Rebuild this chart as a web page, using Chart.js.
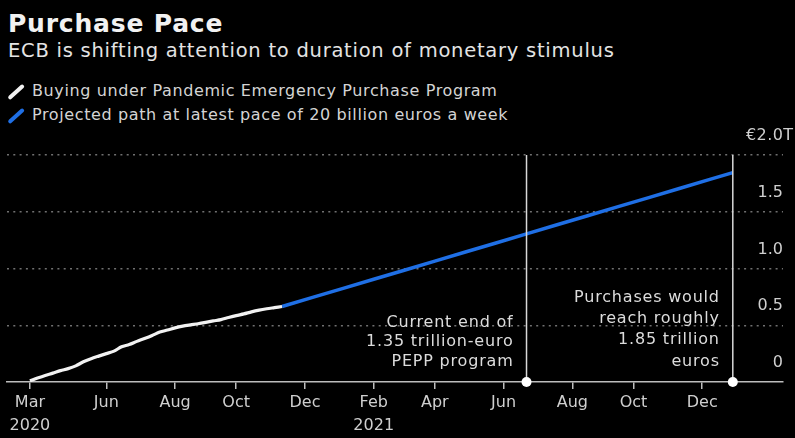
<!DOCTYPE html>
<html>
<head>
<meta charset="utf-8">
<script src="https://cdn.jsdelivr.net/npm/chart.js@4.4.0/dist/chart.umd.min.js"></script>
<style>
  html, body { margin: 0; padding: 0; background: #000; }
  body { width: 795px; height: 438px; position: relative; overflow: hidden; font-family: 'DejaVu Sans', sans-serif; }
  #title { position: absolute; left: 8px; top: 10.5px; font-size: 25px; line-height: 25px; letter-spacing: 0.8px; font-weight: bold; color: #f2f2f2; }
  #subtitle { position: absolute; left: 8px; top: 40.8px; font-size: 19.5px; line-height: 19.5px; letter-spacing: 0.75px; color: #e4e4e4; white-space: nowrap; }
  .leg { position: absolute; left: 32px; font-size: 16px; line-height: 16px; letter-spacing: 0.62px; color: #d4d4d4; white-space: nowrap; }
  .leg i { position: absolute; left: -26px; top: 7px; width: 20px; height: 3.5px; border-radius: 2px; transform: rotate(-42deg); }
  canvas { position: absolute; left: 0; top: 0; }
</style>
</head>
<body>
<div id="title">Purchase Pace</div>
<div id="subtitle">ECB is shifting attention to duration of monetary stimulus</div>
<div class="leg" style="top:83.2px"><i style="background:#f2f2f2"></i>Buying under Pandemic Emergency Purchase Program</div>
<div class="leg" style="top:106.5px"><i style="background:#1f6fe5"></i>Projected path at latest pace of 20 billion euros a week</div>
<canvas id="chart" width="795" height="438"></canvas>
<script>
// weekly PEPP holdings, trillion euros
const boughtDates = ['2020-03-27', '2020-04-03', '2020-04-10', '2020-04-17', '2020-04-24', '2020-05-01',
    '2020-05-08', '2020-05-15', '2020-05-22', '2020-05-29', '2020-06-05', '2020-06-12', '2020-06-19',
    '2020-06-26', '2020-07-03', '2020-07-10', '2020-07-17', '2020-07-24', '2020-07-31', '2020-08-07',
    '2020-08-14', '2020-08-21', '2020-08-28', '2020-09-04', '2020-09-11', '2020-09-18', '2020-09-25',
    '2020-10-02', '2020-10-09', '2020-10-16', '2020-10-23', '2020-10-30', '2020-11-06', '2020-11-13'];
const boughtValues = [0.01, 0.035, 0.058, 0.078, 0.10, 0.118, 0.142, 0.178, 0.205, 0.228, 0.25, 0.272,
    0.31, 0.33, 0.358, 0.383, 0.41, 0.44, 0.458, 0.477, 0.492, 0.503, 0.513, 0.525, 0.538, 0.55, 0.568,
    0.585, 0.60, 0.618, 0.633, 0.645, 0.655, 0.665];

// projection at 20bn a week
const projDates = ['2020-11-13', '2020-12-11', '2021-01-08', '2021-02-05', '2021-03-05', '2021-04-02',
    '2021-04-30', '2021-05-28', '2021-06-25', '2021-07-23', '2021-08-20', '2021-09-17', '2021-10-15',
    '2021-11-12', '2021-12-10', '2021-12-31'];
const projValues = [0.665, 0.745, 0.825, 0.905, 0.985, 1.065, 1.145, 1.225, 1.305, 1.385, 1.465, 1.545,
    1.625, 1.705, 1.785, 1.845];

const tickDates = ['2020-03-27', '2020-06-05', '2020-08-07', '2020-10-02', '2020-12-04', '2021-02-05',
    '2021-04-02', '2021-06-04', '2021-08-06', '2021-10-01', '2021-12-03'];
const tickMonths = ['Mar', 'Jun', 'Aug', 'Oct', 'Dec', 'Feb', 'Apr', 'Jun', 'Aug', 'Oct', 'Dec'];
const tickYears = ['2020', '', '', '', '', '2021', '', '', '', '', ''];
const yTicks = [0, 0.5, 1, 1.5, 2];

const markerDates = ['2021-06-25', '2021-12-31'];
const notes = [
    ['Current end of', '1.35 trillion-euro', 'PEPP program'],
    ['Purchases would', 'reach roughly', '1.85 trillion', 'euros']
];

const base = Date.parse('2020-03-27');
function day(s) { return (Date.parse(s) - base) / 864e5; }

const FONT = "'DejaVu Sans', sans-serif";
const TXT = '#cfcfcf';

const markerSets = markerDates.map(d => ({
    data: [{ x: day(d), y: 0 }, { x: day(d), y: yTicks[yTicks.length - 1] }],
    borderColor: '#d8d8d8',
    borderWidth: 1.5,
    pointRadius: [5, 0],
    pointBackgroundColor: '#ffffff',
    pointBorderWidth: 0,
    clip: false
}));

const noteText = {
    id: 'noteText',
    afterDatasetsDraw(chart) {
        const { ctx, chartArea, scales } = chart;
        ctx.save();
        ctx.fillStyle = '#dcdcdc';
        ctx.font = '16px ' + FONT;
        ctx.letterSpacing = '0.8px';
        ctx.textAlign = 'right';
        ctx.textBaseline = 'alphabetic';
        notes.forEach((lines, i) => {
            const x = scales.x.getPixelForValue(day(markerDates[i])) - 13;
            const step = i === 0 ? 19.5 : 21.2;
            lines.forEach((t, j) => {
                ctx.fillText(t, x, chartArea.bottom - 16.5 - (lines.length - 1 - j) * step);
            });
        });
        // top value label hangs past the right edge
        const yTop = scales.y.getPixelForValue(yTicks[yTicks.length - 1]);
        ctx.letterSpacing = '0.4px';
        ctx.fillStyle = TXT;
        ctx.textAlign = 'left';
        ctx.textBaseline = 'middle';
        ctx.fillText('\u20ac2.0T', 746, yTop - 19);
        ctx.restore();
    }
};

new Chart(document.getElementById('chart'), {
    type: 'line',
    data: {
        datasets: [
            ...markerSets,
            {
                data: boughtDates.map((d, i) => ({ x: day(d), y: boughtValues[i] })),
                borderColor: '#f2f2f2',
                borderWidth: 3.2,
                pointRadius: 0,
                tension: 0.3
            },
            {
                data: projDates.map((d, i) => ({ x: day(d), y: projValues[i] })),
                borderColor: '#1f6fe5',
                borderWidth: 3.5,
                pointRadius: 0
            }
        ]
    },
    options: {
        responsive: false,
        animation: false,
        layout: { padding: { left: 7, top: 155, right: 0, bottom: 0 } },
        plugins: { legend: { display: false }, tooltip: { enabled: false } },
        scales: {
            x: {
                type: 'linear',
                min: -21,
                max: 690,
                afterBuildTicks: s => { s.ticks = tickDates.map(d => ({ value: day(d) })); },
                afterFit: s => { s.height = 56; },
                grid: { drawOnChartArea: false, drawTicks: true, tickLength: 7, color: '#bdbdbd', lineWidth: 1.5 },
                border: { display: true, color: '#bdbdbd', width: 1.5 },
                ticks: {
                    autoSkip: false,
                    maxRotation: 0,
                    padding: 2,
                    color: TXT,
                    font: { family: FONT, size: 16, lineHeight: 1.46 },
                    callback: (v, i) => tickYears[i] ? [tickMonths[i], tickYears[i]] : tickMonths[i]
                }
            },
            y: {
                position: 'right',
                min: 0,
                max: 2,
                afterBuildTicks: s => { s.ticks = yTicks.map(v => ({ value: v })); },
                afterFit: s => { s.width = 12; },
                grid: {
                    drawTicks: false,
                    lineWidth: 1.5,
                    color: c => c.tick && c.tick.value === 0 ? 'rgba(0,0,0,0)' : '#707070'
                },
                border: { display: false, dash: [2, 4.3] },
                ticks: {
                    mirror: true,
                    padding: 0,
                    labelOffset: -19,
                    color: TXT,
                    font: { family: FONT, size: 16 },
                    callback: v => v === 2 ? '' : (v === 0 ? '0' : v.toFixed(1))
                }
            }
        }
    },
    plugins: [noteText]
});
</script>
</body>
</html>
